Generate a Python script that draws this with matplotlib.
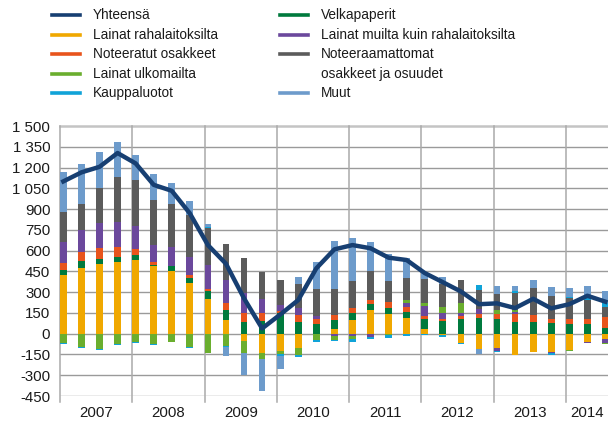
import numpy as np
import matplotlib
matplotlib.use("Agg")
from matplotlib import pyplot as plt
from matplotlib.lines import Line2D

plt.rcParams['font.family'] = ['Liberation Sans', 'DejaVu Sans']

# quarterly data 2007Q1 - 2014Q3
years = [2007, 2008, 2009, 2010, 2011, 2012, 2013, 2014]
quarters_per_year = [4, 4, 4, 4, 4, 4, 4, 3]

lainat_raha = [424, 477, 505, 520, 534, 491, 453, 366, 250, 98, -53, -137, -125, -105, 0, 34,
               99, 171, 142, 111, 34, -9, -65, -110, -101, -154, -130, -130, -118, -58, -40]
velkapaperit = [36, 48, 36, 36, 34, 7, 38, 38, 56, 73, 87, 92, 147, 87, 70, 65,
                53, 43, 46, 44, 72, 92, 106, 116, 106, 87, 87, 75, 68, 68, 43]
noteeratut = [50, 67, 80, 72, 46, 22, -5, 20, 17, 53, 60, 55, 19, 48, 36, 36,
              36, 29, 43, 36, 24, 14, 24, 26, 34, 53, 48, 31, 36, 36, 75]
lainat_muilta = [154, 159, 176, 180, 166, 120, 135, 130, 173, 166, 149, 103, 41, 51, 24, -14,
                 -19, -26, 0, 28, 70, 41, 22, 34, -22, 15, 0, -12, 0, -11, -29]
lainat_ulko = [-67, -96, -110, -74, -60, -74, -58, -94, -137, -89, -84, -46, -21, -49, -45, -31,
               -21, 0, -12, 24, 19, 48, 67, 0, 31, 15, 0, 0, -7, 0, -8]
noteeraamattomat = [215, 188, 255, 325, 332, 327, 310, 301, 269, 258, 250, 195, 183, 173, 193, 188,
                    192, 210, 149, 161, 176, 164, 169, 140, 114, 125, 197, 166, 151, 139, 77]
kauppaluotot = [-7, -5, -5, -5, -5, -5, 0, -7, 3, -5, 0, 0, -15, -14, -15, -8,
                -18, -14, -17, -17, -12, -17, -12, 38, -7, 12, 0, -12, 12, 20, 29]
muut = [288, 289, 260, 251, 178, 188, 152, 105, 25, -67, -161, -228, -96, 50, 195, 346,
        313, 209, 195, 145, 41, 50, 0, -37, 63, 36, 56, 65, 61, 81, 84]
yhteensa = [1100, 1165, 1205, 1305, 1230, 1075, 1032, 869, 640, 505, 255, 38, 138, 243, 472, 609,
            640, 617, 549, 532, 438, 372, 305, 213, 219, 185, 252, 183, 213, 274, 231]

yticks = list(range(-450, 1501, 150))

C_NAVY = "#173f72"
C_ORANGE = "#f0a800"
C_RED = "#e8541c"
C_LGREEN = "#6aae2e"
C_CYAN = "#10a3d8"
C_DGREEN = "#007a3d"
C_PURPLE = "#6b489c"
C_GRAY = "#5b5b5b"
C_LBLUE = "#6d9bcb"

# stacking order (bottom to top)
stack = [
    (lainat_raha, C_ORANGE),
    (velkapaperit, C_DGREEN),
    (noteeratut, C_RED),
    (lainat_muilta, C_PURPLE),
    (lainat_ulko, C_LGREEN),
    (noteeraamattomat, C_GRAY),
    (kauppaluotot, C_CYAN),
    (muut, C_LBLUE),
]

W, H = 608, 423
fig = plt.figure(figsize=(W / 100, H / 100), dpi=100)
px_left, px_top, px_bottom = 60, 126, 396
slot = 18.07
ax = fig.add_axes([px_left / W, (H - px_bottom) / H, (W - px_left) / W, (px_bottom - px_top) / H])

n = len(yhteensa)
x = np.arange(n) + 0.185
bar_w = 0.37

pos_base = np.zeros(n)
neg_base = np.zeros(n)
for vals, col in stack:
    v = np.array(vals, dtype=float)
    bottom = np.where(v >= 0, pos_base, neg_base)
    ax.bar(x, v, bottom=bottom, width=bar_w, color=col, linewidth=0, zorder=3)
    pos_base = pos_base + np.where(v > 0, v, 0)
    neg_base = neg_base + np.where(v < 0, v, 0)

ax.plot(x, yhteensa, color=C_NAVY, lw=3.2, zorder=5, solid_joinstyle='round')

xmax = (W - px_left) / slot
ax.set_xlim(0, xmax)
ax.set_ylim(-450, 1500)

# horizontal gridlines
for t in yticks[:-1]:
    ax.axhline(t, color="#9a9a9a", lw=1.0, zorder=1)
ax.axhline(1500, color="#c4c4c4", lw=1.8, zorder=1, clip_on=False)

# year separators and labels
trans = ax.get_xaxis_transform()
ext = 6 / (px_bottom - px_top)
start = 0
for yr, nq in zip(years, quarters_per_year):
    ax.plot([start, start], [-ext, 1], transform=trans, color="#aaaaaa", lw=1.1,
            clip_on=False, zorder=1)
    end = min(start + nq, xmax)
    ax.text((start + end) / 2, -17 / (px_bottom - px_top), str(yr), transform=trans,
            ha="center", va="center", fontsize=10.8, color="#1a1a1a")
    start += nq

ax.set_xticks([])
ax.set_yticks(yticks)
ax.set_yticklabels([f"{t:,}".replace(",", " ") for t in yticks], fontsize=10.8, color="#1a1a1a")
ax.tick_params(axis="y", length=0, pad=7)
for s in ax.spines.values():
    s.set_visible(False)

# legend (two columns, drawn in figure pixels)
legend_items = [
    (C_NAVY, "Yhteensä", 0, 0),
    (C_ORANGE, "Lainat rahalaitoksilta", 0, 1),
    (C_RED, "Noteeratut osakkeet", 0, 2),
    (C_LGREEN, "Lainat ulkomailta", 0, 3),
    (C_CYAN, "Kauppaluotot", 0, 4),
    (C_DGREEN, "Velkapaperit", 1, 0),
    (C_PURPLE, "Lainat muilta kuin rahalaitoksilta", 1, 1),
    (C_GRAY, "Noteeraamattomat", 1, 2),
    (None, "osakkeet ja osuudet", 1, 3),
    (C_LBLUE, "Muut", 1, 4),
]
col_x = [52, 280]
row_y0, row_dy = 15, 19.6
for col, label, c, r in legend_items:
    yy = (H - (row_y0 + r * row_dy)) / H
    x0 = col_x[c]
    if col is not None:
        fig.add_artist(Line2D([x0 / W, (x0 + 28) / W], [yy, yy], color=col, lw=2.6,
                              transform=fig.transFigure))
    fig.text((x0 + 41) / W, yy, label, ha="left", va="center", fontsize=9.8, color="#1a1a1a")

fig.savefig("out.png", dpi=100)
